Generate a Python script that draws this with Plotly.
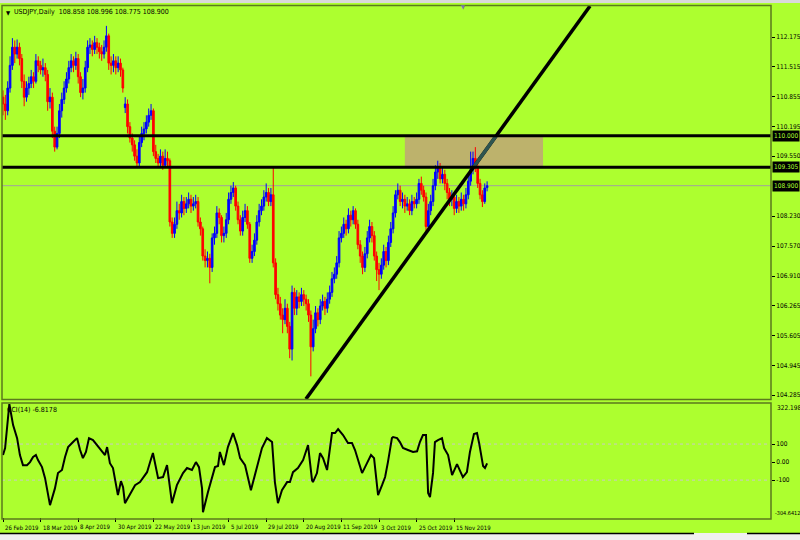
import plotly.graph_objects as go

W, H = 800, 540
BG = "#ADFF2F"
FRAME = "#5B7A1E"
FONT = "Liberation Sans Narrow, DejaVu Sans Condensed, Arial Narrow, Liberation Sans, sans-serif"
FS = 6.5
FSD = 6

# ---------------- data ----------------
date_labels = ["26 Feb 2019", "18 Mar 2019", "8 Apr 2019", "30 Apr 2019", "22 May 2019",
               "13 Jun 2019", "5 Jul 2019", "29 Jul 2019", "20 Aug 2019", "11 Sep 2019",
               "3 Oct 2019", "25 Oct 2019", "15 Nov 2019"]
date_bars = [0, 16, 32, 48, 64, 80, 96, 112, 128, 144, 160, 176, 192]

opens = [
    110.85, 110.70, 110.55, 111.05, 111.55, 111.95, 111.80, 111.95, 111.70, 111.20,
    110.85, 111.05, 111.15, 111.30, 111.20, 111.65, 111.55, 111.45, 111.50, 111.35,
    110.75, 110.85, 110.10, 109.75, 110.05, 110.55, 110.80, 111.05, 111.25, 111.50,
    111.65, 111.55, 111.70, 111.30, 110.95, 111.05, 111.50, 111.95, 112.00, 111.90,
    112.05, 111.95, 111.85, 111.80, 111.95, 112.20, 111.60, 111.55, 111.65, 111.50,
    111.60, 111.45, 110.62, 110.70, 110.20, 109.95, 109.80, 109.55, 109.40, 109.85,
    110.05, 110.15, 110.30, 110.45, 110.55, 109.65, 109.50, 109.40, 109.55, 109.35,
    109.50, 109.45, 108.10, 107.85, 108.05, 108.35, 108.30, 108.55, 108.40, 108.50,
    108.60, 108.45, 108.50, 108.55, 108.10, 107.95, 107.35, 107.25, 107.30, 107.10,
    107.75, 107.85, 108.30, 108.20, 107.80, 107.85, 108.15, 108.60, 108.75, 108.85,
    108.45, 108.15, 107.90, 108.20, 108.35, 108.05, 107.30, 107.45, 107.70, 108.10,
    108.35, 108.45, 108.65, 108.75, 108.55, 108.70, 107.20, 106.50, 106.30, 106.05,
    105.95, 106.20, 105.80, 105.30, 106.55, 106.20, 106.45, 106.35, 106.50, 106.40,
    106.30, 106.05, 105.35, 105.75, 106.10, 105.95, 106.25, 106.35, 106.20, 106.40,
    106.55, 106.85, 106.95, 107.20, 107.75, 107.85, 108.05, 107.95, 108.25, 108.15,
    108.35, 108.05, 107.60, 107.35, 107.10, 107.40, 107.75, 108.00, 107.80, 107.35,
    107.05, 106.95, 107.15, 107.45, 107.25, 107.65, 107.95, 108.30, 108.70, 108.80,
    108.55, 108.60, 108.45, 108.50, 108.35, 108.55, 108.50, 108.60, 108.95, 108.80,
    108.65, 108.00, 108.35, 108.55, 108.90, 109.20, 109.30, 109.05, 109.15, 108.95,
    108.75, 108.60, 108.65, 108.40, 108.55, 108.45, 108.60, 108.50, 108.70, 109.00,
    109.25, 109.50, 109.30, 108.95, 108.70, 108.55, 108.858]

highs = [
    111.00, 110.90, 111.20, 111.75, 112.15, 112.10, 112.12, 112.05, 111.80, 111.35,
    111.20, 111.30, 111.45, 111.40, 111.80, 111.75, 111.65, 111.70, 111.60, 111.45,
    111.05, 110.95, 110.20, 110.20, 110.70, 110.95, 111.20, 111.40, 111.65, 111.80,
    111.75, 111.85, 111.80, 111.40, 111.25, 111.65, 112.10, 112.15, 112.10, 112.20,
    112.15, 112.05, 112.00, 112.10, 112.42, 112.25, 111.75, 111.80, 111.75, 111.75,
    111.70, 111.50, 110.85, 110.80, 110.30, 110.05, 109.90, 109.70, 110.00, 110.20,
    110.30, 110.45, 110.60, 110.70, 110.60, 109.80, 109.60, 109.70, 109.65, 109.70,
    109.65, 109.50, 108.20, 108.20, 108.55, 108.50, 108.70, 108.65, 108.65, 108.75,
    108.70, 108.65, 108.70, 108.65, 108.20, 108.00, 107.50, 107.45, 107.40, 107.85,
    108.00, 108.45, 108.40, 108.25, 108.00, 108.30, 108.75, 108.90, 108.98, 108.90,
    108.55, 108.25, 108.35, 108.50, 108.45, 108.10, 107.60, 107.85, 108.25, 108.50,
    108.60, 108.80, 108.95, 108.85, 108.85, 109.30, 107.30, 106.65, 106.45, 106.20,
    106.40, 106.30, 105.90, 106.70, 106.65, 106.60, 106.55, 106.65, 106.60, 106.50,
    106.40, 106.15, 105.95, 106.25, 106.20, 106.40, 106.50, 106.45, 106.55, 106.70,
    107.00, 107.10, 107.35, 107.90, 108.00, 108.20, 108.15, 108.40, 108.35, 108.45,
    108.40, 108.15, 107.70, 107.45, 107.55, 107.90, 108.15, 108.10, 107.90, 107.45,
    107.20, 107.30, 107.60, 107.55, 107.80, 108.10, 108.45, 108.80, 108.95, 108.90,
    108.75, 108.70, 108.65, 108.60, 108.70, 108.65, 108.75, 109.05, 109.10, 108.90,
    108.75, 108.50, 108.70, 109.05, 109.35, 109.45, 109.40, 109.30, 109.25, 109.05,
    108.85, 108.80, 108.75, 108.70, 108.65, 108.75, 108.70, 108.85, 109.15, 109.65,
    109.65, 109.75, 109.40, 109.05, 108.80, 108.95, 108.996]

lows = [
    110.45, 110.35, 110.45, 110.95, 111.45, 111.60, 111.70, 111.55, 111.05, 110.65,
    110.75, 110.90, 111.05, 111.05, 111.15, 111.40, 111.35, 111.30, 111.20, 110.55,
    110.60, 109.95, 109.65, 109.70, 109.95, 110.40, 110.70, 110.95, 111.15, 111.40,
    111.40, 111.45, 111.15, 110.85, 110.80, 110.95, 111.40, 111.80, 111.75, 111.80,
    111.80, 111.70, 111.65, 111.70, 111.85, 111.45, 111.35, 111.40, 111.35, 111.40,
    111.30, 110.95, 110.50, 110.05, 109.85, 109.65, 109.45, 109.30, 109.30, 109.75,
    109.90, 110.05, 110.20, 110.35, 109.55, 109.40, 109.30, 109.30, 109.25, 109.30,
    109.30, 108.00, 107.75, 107.75, 107.95, 108.15, 108.20, 108.25, 108.30, 108.40,
    108.30, 108.35, 108.40, 108.00, 107.80, 107.25, 107.10, 107.10, 106.75, 107.00,
    107.60, 107.75, 108.05, 107.65, 107.65, 107.75, 108.05, 108.50, 108.65, 108.35,
    108.05, 107.80, 107.80, 108.10, 107.95, 107.20, 107.20, 107.35, 107.60, 108.00,
    108.25, 108.35, 108.55, 108.45, 108.45, 107.10, 106.40, 106.15, 105.95, 105.65,
    105.85, 105.65, 105.10, 105.05, 106.05, 106.05, 106.20, 106.25, 106.25, 106.15,
    105.90, 104.70, 105.25, 105.65, 105.80, 105.85, 106.15, 106.05, 106.10, 106.30,
    106.45, 106.75, 106.85, 107.10, 107.65, 107.75, 107.80, 107.85, 108.00, 108.05,
    107.95, 107.50, 107.20, 106.95, 107.00, 107.30, 107.65, 107.65, 107.25, 106.80,
    106.60, 106.85, 107.05, 107.10, 107.15, 107.55, 107.85, 108.20, 108.60, 108.45,
    108.40, 108.30, 108.35, 108.25, 108.25, 108.40, 108.40, 108.50, 108.70, 108.55,
    107.90, 107.90, 108.25, 108.45, 108.80, 109.05, 108.95, 108.95, 108.80, 108.60,
    108.45, 108.45, 108.25, 108.30, 108.30, 108.35, 108.35, 108.40, 108.60, 108.90,
    109.15, 109.20, 108.85, 108.60, 108.43, 108.50, 108.775]

closes = [
    110.70, 110.55, 111.05, 111.55, 111.95, 111.80, 111.95, 111.70, 111.20, 110.85,
    111.05, 111.15, 111.30, 111.20, 111.65, 111.55, 111.45, 111.50, 111.35, 110.75,
    110.85, 110.10, 109.75, 110.05, 110.55, 110.80, 111.05, 111.25, 111.50, 111.65,
    111.55, 111.70, 111.30, 110.95, 111.05, 111.50, 111.95, 112.00, 111.90, 112.05,
    111.95, 111.85, 111.80, 111.95, 112.20, 111.60, 111.55, 111.65, 111.50, 111.60,
    111.45, 111.05, 110.70, 110.20, 109.95, 109.80, 109.55, 109.40, 109.85, 110.05,
    110.15, 110.30, 110.45, 110.55, 109.65, 109.50, 109.40, 109.55, 109.35, 109.50,
    109.45, 108.10, 107.85, 108.05, 108.35, 108.30, 108.55, 108.40, 108.50, 108.60,
    108.45, 108.50, 108.55, 108.10, 107.95, 107.35, 107.25, 107.30, 107.10, 107.75,
    107.85, 108.30, 108.20, 107.80, 107.85, 108.15, 108.60, 108.75, 108.85, 108.45,
    108.15, 107.90, 108.20, 108.35, 108.05, 107.30, 107.45, 107.70, 108.10, 108.35,
    108.45, 108.65, 108.75, 108.55, 108.70, 107.20, 106.50, 106.30, 106.05, 105.95,
    106.20, 105.80, 105.30, 106.55, 106.20, 106.45, 106.35, 106.50, 106.40, 106.30,
    106.05, 105.35, 105.75, 106.10, 105.95, 106.25, 106.35, 106.20, 106.40, 106.55,
    106.85, 106.95, 107.20, 107.75, 107.85, 108.05, 107.95, 108.25, 108.15, 108.35,
    108.05, 107.60, 107.35, 107.10, 107.40, 107.75, 108.00, 107.80, 107.35, 107.05,
    106.95, 107.15, 107.45, 107.25, 107.65, 107.95, 108.30, 108.70, 108.80, 108.55,
    108.60, 108.45, 108.50, 108.35, 108.55, 108.50, 108.60, 108.95, 108.80, 108.65,
    108.00, 108.35, 108.55, 108.90, 109.20, 109.30, 109.05, 109.15, 108.95, 108.75,
    108.60, 108.65, 108.40, 108.55, 108.45, 108.60, 108.50, 108.70, 109.00, 109.25,
    109.50, 109.30, 108.95, 108.70, 108.55, 108.85, 108.900]

cci_bar = [
    0, 0.9, 2.7, 4.3, 6.0, 7.2, 8.5, 10.2, 11.5, 12.8,
    14.0, 14.9, 16.6, 17.9, 20.0, 22.1, 23.4, 25.1, 26.4, 27.7,
    29.8, 31.5, 32.8, 34.0, 35.3, 36.6, 38.3, 40.0, 42.1, 43.4,
    44.3, 45.5, 46.8, 48.5, 48.9, 50.2, 51.1, 51.9, 54.0, 56.2,
    58.3, 61.3, 62.6, 63.8, 66.0, 68.1, 69.8, 71.9, 74.0, 76.6,
    78.3, 80.4, 82.1, 83.4, 84.7, 85.1, 87.2, 88.9, 90.2, 91.5,
    92.3, 94.0, 95.7, 97.9, 99.6, 100.9, 103.0, 105.5, 107.2, 108.5,
    110.2, 112.3, 114.5, 115.7, 117.0, 118.7, 120.9, 122.1, 123.4, 125.5,
    127.7, 129.4, 129.8, 131.5, 131.9, 133.6, 134.9, 136.2, 137.9, 140.0,
    141.3, 142.6, 144.7, 146.8, 148.5, 149.8, 151.1, 152.8, 154.9, 156.6,
    157.9, 159.6, 161.3, 162.6, 163.8, 165.5, 166.0, 167.7, 168.9, 170.2,
    172.3, 174.5, 176.2, 177.4, 178.7, 180.0, 180.9, 181.7, 183.0, 183.8,
    185.1, 186.8, 187.7, 189.4, 191.1, 193.2, 195.7, 197.4, 198.7, 200.4,
    201.7, 202.6, 204.3, 205.1, 206.0]
cci_val = [
    39, 78, 322.2, 205, 133, 39, -17, -17, 0, 28,
    39, 11, -28, -89, -239, -146, -61, -44, 28, 83,
    111, 133, 67, 22, 56, 133, 122, 94, 56, 39,
    83, -6, -33, -167, -183, -106, -139, -228, -183, -128,
    -111, -56, 0, 50, -89, -83, -17, -228, -128, -61,
    -33, -44, 0, -28, -146, -278, -167, -89, -28, -22,
    56, -17, 83, 161, 94, 22, -17, -156, -72, -6,
    78, 133, 111, -111, -228, -156, -111, -111, -56, -33,
    11, 78, 94, -100, -111, -61, 50, 22, -44, 161,
    161, 183, 150, 106, 106, 67, 11, -61, -6, 39,
    22, -183, -128, -83, 0, 133, 139, 133, 111, 78,
    67, 56, 60, 111, 150, 150, -172, -194, -60, 111,
    122, 133, 78, 39, -72, -11, -83, -56, 56, 156,
    161, 106, -22, -33, -6.8178]

price_ticks = [112.175, 111.515, 110.855, 110.195, 109.550, 108.230, 107.570,
               106.910, 106.265, 105.605, 104.945, 104.285]
cci_ticks = [100, 0, -100]
cci_tick_text = ["100", "0.00", "-100"]
cci_min, cci_max = -304.6412, 322.198

level_lines = [110.000, 109.305]
level_text = ["110.000", "109.305"]
last_price = 108.900
trend_x = [128.9, 249.8]
trend_y = [104.20, 112.858]
rect_x = [171, 229.8]
rect_y = [109.305, 110.000]
header = "USDJPY,Daily  108.858 108.996 108.775 108.900"
cci_title = "CCI(14) -6.8178"

assert len(opens) == len(highs) == len(lows) == len(closes)
assert len(cci_bar) == len(cci_val)

bars = list(range(len(closes)))


def px(x):
    return x / W


def py(y):
    return 1 - y / H


XR = [-0.4255, 326.81]
XD = [px(2), px(771)]

fig = go.Figure()

fig.add_trace(go.Candlestick(
    x=bars, open=opens, high=highs, low=lows, close=closes,
    increasing=dict(line=dict(color="#0000FF", width=1), fillcolor="#0000FF"),
    decreasing=dict(line=dict(color="#FF0000", width=1), fillcolor="#FF0000"),
    whiskerwidth=0, xaxis="x", yaxis="y", showlegend=False, hoverinfo="skip"))

# trendline
fig.add_trace(go.Scatter(x=trend_x, y=trend_y, mode="lines",
                         line=dict(color="black", width=3.5),
                         xaxis="x", yaxis="y", showlegend=False, hoverinfo="skip"))
slope = (trend_y[1] - trend_y[0]) / (trend_x[1] - trend_x[0])
seg_x = [trend_x[0] + (p - trend_y[0]) / slope for p in rect_y]
fig.add_trace(go.Scatter(x=seg_x, y=rect_y, mode="lines",
                         line=dict(color="#2F5550", width=3.5),
                         xaxis="x", yaxis="y", showlegend=False, hoverinfo="skip"))

# CCI
fig.add_trace(go.Scatter(x=cci_bar, y=cci_val, mode="lines",
                         line=dict(color="black", width=2),
                         xaxis="x2", yaxis="y2", showlegend=False, hoverinfo="skip"))

shapes = []
# window chrome strips
shapes.append(dict(type="rect", xref="paper", yref="paper", x0=0, x1=1, y0=py(3), y1=1,
                   fillcolor="#D9D9D9", line=dict(width=0), layer="above"))
shapes.append(dict(type="rect", xref="paper", yref="paper", x0=0, x1=1, y0=0, y1=py(533),
                   fillcolor="#F0F0F0", line=dict(width=0), layer="above"))
shapes.append(dict(type="line", xref="paper", yref="paper", x0=0, x1=px(694), y0=py(533.5), y1=py(533.5),
                   line=dict(color="black", width=1.5), layer="above"))
shapes.append(dict(type="line", xref="paper", yref="paper", x0=px(747), x1=1, y0=py(533.5), y1=py(533.5),
                   line=dict(color="black", width=1.5), layer="above"))
# rectangle zone
shapes.append(dict(type="rect", xref="x", yref="y", x0=rect_x[0], x1=rect_x[1],
                   y0=rect_y[0], y1=rect_y[1], fillcolor="#BDB26C",
                   line=dict(width=0), layer="below"))
# last price line
shapes.append(dict(type="line", xref="paper", yref="y", x0=XD[0], x1=XD[1],
                   y0=last_price, y1=last_price, line=dict(color="#A0A0A0", width=1), layer="below"))
# level lines
for lv in level_lines:
    shapes.append(dict(type="line", xref="paper", yref="y", x0=XD[0], x1=XD[1],
                       y0=lv, y1=lv, line=dict(color="black", width=3), layer="above"))
# CCI levels
for lv in [100, -100]:
    shapes.append(dict(type="line", xref="paper", yref="y2", x0=XD[0], x1=XD[1],
                       y0=lv, y1=lv, line=dict(color="#C8C8C8", width=1, dash="dot"), layer="below"))
# frames
shapes.append(dict(type="rect", xref="paper", yref="paper", x0=px(2), x1=px(771),
                   y0=py(399.5), y1=py(5.5), line=dict(color=FRAME, width=1.5), layer="above"))
shapes.append(dict(type="rect", xref="paper", yref="paper", x0=px(2), x1=px(771),
                   y0=py(519), y1=py(403), line=dict(color=FRAME, width=1.5), layer="above"))

annotations = []
annotations.append(dict(xref="paper", yref="paper", x=px(4), y=py(12), text="▼",
                        showarrow=False, xanchor="left", yanchor="middle",
                        font=dict(family=FONT, size=6, color="black")))
annotations.append(dict(xref="paper", yref="paper", x=px(12), y=py(12), text=header,
                        showarrow=False, xanchor="left", yanchor="middle",
                        font=dict(family=FONT, size=7, color="black")))
annotations.append(dict(xref="paper", yref="paper", x=px(463), y=py(7), text="▼",
                        showarrow=False, xanchor="center", yanchor="middle",
                        font=dict(family=FONT, size=6, color="#7A7AA8")))
annotations.append(dict(xref="paper", yref="paper", x=px(5), y=py(410), text=cci_title,
                        showarrow=False, xanchor="left", yanchor="middle",
                        font=dict(family=FONT, size=7, color="black")))
for lv, txt in zip(level_lines + [last_price], level_text + ["108.900"]):
    annotations.append(dict(xref="paper", yref="y", x=px(772), y=lv, text=txt,
                            showarrow=False, xanchor="left", yanchor="middle",
                            bgcolor="black", borderpad=1,
                            font=dict(family=FONT, size=FS, color=BG)))
annotations.append(dict(xref="paper", yref="paper", x=px(775), y=py(408), text=f"{cci_max:.3f}",
                        showarrow=False, xanchor="left", yanchor="middle",
                        font=dict(family=FONT, size=FS, color="black")))
annotations.append(dict(xref="paper", yref="paper", x=px(773), y=py(513), text=f"{cci_min:.4f}",
                        showarrow=False, xanchor="left", yanchor="middle",
                        font=dict(family=FONT, size=5.5, color="black")))
for b, d in zip(date_bars, date_labels):
    annotations.append(dict(xref="x2", yref="paper", x=b, y=py(527), text=d,
                            showarrow=False, xanchor="left", yanchor="middle", xshift=0,
                            font=dict(family=FONT, size=FSD, color="black")))

fig.update_layout(
    width=W, height=H, autosize=False,
    margin=dict(l=0, r=0, t=0, b=0, pad=0),
    paper_bgcolor=BG, plot_bgcolor=BG,
    showlegend=False,
    boxgap=0.3, boxgroupgap=0,
    xaxis=dict(domain=XD, range=XR, anchor="y", showticklabels=False, ticks="",
               showgrid=False, zeroline=False, showline=False,
               rangeslider=dict(visible=False), fixedrange=True),
    yaxis=dict(domain=[py(399), py(6)], range=[104.2014, 112.858], anchor="x", side="right",
               tickvals=price_ticks, ticktext=[f"{t:.3f}" for t in price_ticks],
               ticks="outside", ticklen=3, tickcolor="black", tickwidth=1,
               tickfont=dict(family=FONT, size=FS, color="black"),
               showgrid=False, zeroline=False, showline=False, fixedrange=True),
    xaxis2=dict(domain=XD, range=XR, anchor="y2", tickvals=date_bars, showticklabels=False,
                ticks="outside", ticklen=4, tickcolor="black", tickwidth=1,
                showgrid=False, zeroline=False, showline=False, fixedrange=True),
    yaxis2=dict(domain=[py(517), py(404)], range=[cci_min, cci_max], anchor="x2", side="right",
                tickvals=cci_ticks, ticktext=cci_tick_text,
                ticks="outside", ticklen=3, tickcolor="black", tickwidth=1,
                tickfont=dict(family=FONT, size=FS, color="black"),
                showgrid=False, zeroline=False, showline=False, fixedrange=True),
    shapes=shapes, annotations=annotations,
)

fig.write_html("out.html", config={"displayModeBar": False, "staticPlot": True},
               post_script="document.body.style.margin='0';document.body.style.padding='0';"
                           "document.body.style.overflow='hidden';")
